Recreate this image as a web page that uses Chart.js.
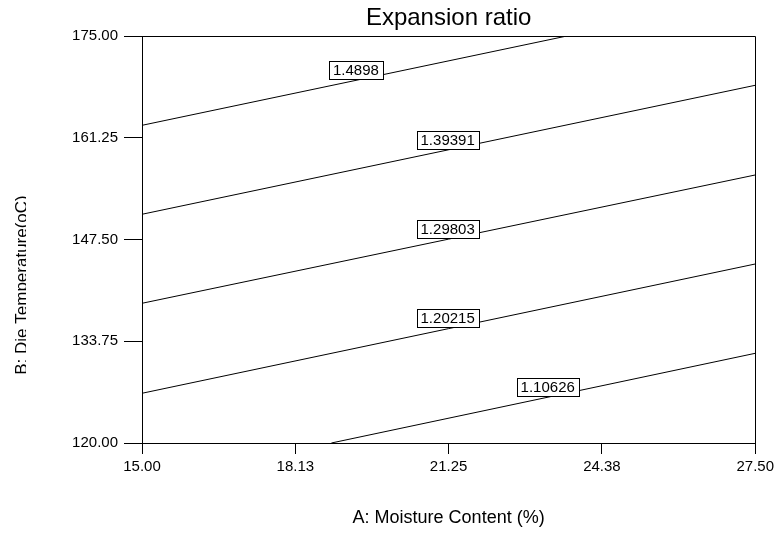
<!DOCTYPE html>
<html>
<head>
<meta charset="utf-8">
<script src="https://cdn.jsdelivr.net/npm/chart.js@4/dist/chart.umd.min.js"></script>
<style>
  html, body { margin: 0; padding: 0; background: #fff; }
  #wrap { width: 778px; height: 534px; }
</style>
</head>
<body>
<div id="wrap"><canvas id="contourChart" width="778" height="534"></canvas></div>
<script>
// axis ticks
const xTicks = [15, 18.125, 21.25, 24.375, 27.5];
const xTickLabels = ['15.00', '18.13', '21.25', '24.38', '27.50'];
const yTicks = [120, 133.75, 147.5, 161.25, 175];
const yTickLabels = ['120.00', '133.75', '147.50', '161.25', '175.00'];

// contour lines: start and end points [moisture, temperature]
const levels = ['1.4898', '1.39391', '1.29803', '1.20215', '1.10626'];
const lineStart = [[15, 162.93], [15, 150.91], [15, 138.88], [15, 126.72], [18.86, 120]];
const lineEnd = [[23.66, 175], [27.5, 168.34], [27.5, 156.22], [27.5, 144.19], [27.5, 132.12]];
const labelAt = [[19.36, 170.4], [21.23, 161.0], [21.23, 148.9], [21.23, 136.9], [23.27, 127.6]];

const FONT = '"Liberation Sans", Arial, sans-serif';
Chart.defaults.font.family = FONT;
Chart.defaults.color = '#000';

const datasets = levels.map((lvl, i) => ({
    label: lvl,
    data: [
        { x: lineStart[i][0], y: lineStart[i][1] },
        { x: lineEnd[i][0], y: lineEnd[i][1] }
    ],
    showLine: true,
    borderColor: '#000',
    borderWidth: 1,
    pointRadius: 0,
    fill: false
}));

// frame + contour labels + clipped y title
const decorations = {
    id: 'decorations',
    afterDatasetsDraw(chart) {
        const { ctx, chartArea: a, scales: { x, y } } = chart;
        ctx.save();
        ctx.strokeStyle = '#000';
        ctx.lineWidth = 1;
        ctx.beginPath();
        ctx.moveTo(Math.round(a.left) + 0.5, Math.round(a.top) + 0.5);
        ctx.lineTo(Math.round(a.right) + 0.5, Math.round(a.top) + 0.5);
        ctx.lineTo(Math.round(a.right) + 0.5, Math.round(a.bottom) + 0.5);
        ctx.stroke();

        ctx.font = '15px ' + FONT;
        ctx.textAlign = 'center';
        ctx.textBaseline = 'middle';
        levels.forEach((lvl, i) => {
            const px = x.getPixelForValue(labelAt[i][0]);
            const py = y.getPixelForValue(labelAt[i][1]);
            const w = Math.round(ctx.measureText(lvl).width + 8);
            const h = 18;
            const bx = Math.round(px - w / 2) + 0.5;
            const by = Math.round(py - h / 2) + 0.5;
            ctx.fillStyle = '#fff';
            ctx.fillRect(bx, by, w, h);
            ctx.strokeRect(bx, by, w, h);
            ctx.fillStyle = '#000';
            ctx.fillText(lvl, px, py + 1);
        });

        // y axis title, partly cut off as in the source image
        ctx.beginPath();
        ctx.rect(0, 0, 26, chart.height);
        ctx.clip();
        ctx.translate(22, 285);
        ctx.rotate(-Math.PI / 2);
        ctx.font = '17px ' + FONT;
        ctx.fillText('B: Die Temperature(oC)', 0, 0);
        ctx.restore();
    }
};

new Chart(document.getElementById('contourChart'), {
    type: 'scatter',
    data: { datasets },
    options: {
        responsive: false,
        devicePixelRatio: 1,
        animation: false,
        layout: { padding: { top: 0, right: 22, bottom: 0, left: 0 } },
        plugins: {
            legend: { display: false },
            tooltip: { enabled: false },
            title: {
                display: true,
                text: 'Expansion ratio',
                fullSize: false,
                font: { size: 24, weight: 'normal' },
                color: '#000',
                padding: { top: 4, bottom: 3.2 }
            }
        },
        scales: {
            x: {
                type: 'linear',
                min: 15,
                max: 27.5,
                afterBuildTicks: s => { s.ticks = xTicks.map(v => ({ value: v })); },
                afterFit: s => { s.height = 91; },
                ticks: {
                    autoSkip: false,
                    maxRotation: 0,
                    padding: 4,
                    font: { size: 15 },
                    color: '#000',
                    callback: (v, i) => xTickLabels[i]
                },
                grid: { drawOnChartArea: false, drawTicks: true, tickLength: 11, color: '#000' },
                border: { display: true, color: '#000', width: 1 },
                title: {
                    display: true,
                    text: 'A: Moisture Content (%)',
                    font: { size: 18 },
                    color: '#000',
                    padding: { top: 0, bottom: 5 }
                }
            },
            y: {
                type: 'linear',
                min: 120,
                max: 175,
                afterBuildTicks: s => { s.ticks = yTicks.map(v => ({ value: v })); },
                afterFit: s => { s.width = 142; },
                ticks: {
                    autoSkip: false,
                    padding: 6,
                    font: { size: 15 },
                    color: '#000',
                    callback: (v, i) => yTickLabels[i]
                },
                grid: { drawOnChartArea: false, drawTicks: true, tickLength: 18, color: '#000' },
                border: { display: true, color: '#000', width: 1 }
            }
        }
    },
    plugins: [decorations]
});
</script>
</body>
</html>
